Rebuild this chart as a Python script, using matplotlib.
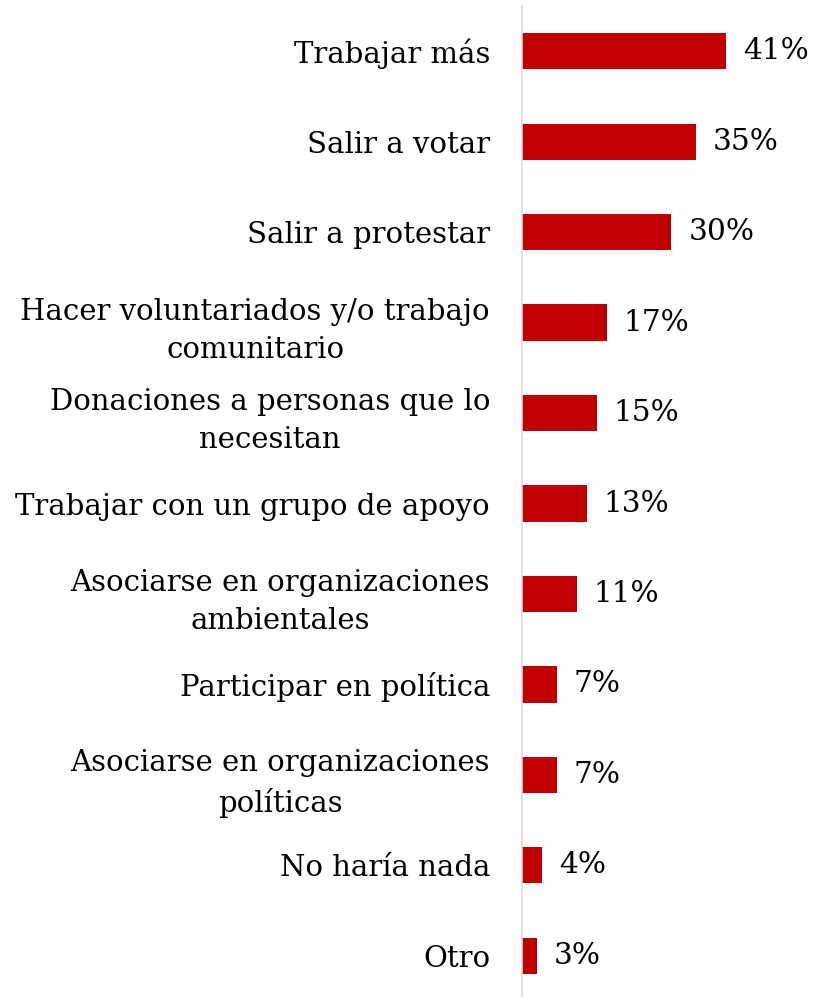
import matplotlib
matplotlib.use('Agg')
import matplotlib.pyplot as plt

# categories and percentages, top to bottom
categories = [
    'Trabajar más',
    'Salir a votar',
    'Salir a protestar',
    'Hacer voluntariados y/o trabajo\ncomunitario',
    'Donaciones a personas que lo\nnecesitan',
    'Trabajar con un grupo de apoyo',
    'Asociarse en organizaciones\nambientales',
    'Participar en política',
    'Asociarse en organizaciones\npolíticas',
    'No haría nada',
    'Otro',
]
values = [41, 35, 30, 17, 15, 13, 11, 7, 7, 4, 3]

plt.rcParams['font.family'] = ['DejaVu Serif']

fig = plt.figure(figsize=(8.15, 9.97), dpi=100)
ax = fig.add_axes([522/815, -4/997, 249/815, 995/997])

pos = list(range(len(values)))
ax.barh(pos, values, height=0.4, color='#C00000')
ax.set_ylim(len(values) - 0.5, -0.5)
ax.set_xlim(0, 50)

for p, v in zip(pos, values):
    ax.text(v + 3.4, p, f'{v}%', va='center', ha='left', fontsize=21.3)

ax.set_yticks(pos)
ax.set_yticklabels(categories, fontsize=21, multialignment='center', linespacing=1.47)
ax.tick_params(axis='y', length=0, pad=23)
ax.set_xticks([])
for s in ['top', 'right', 'bottom']:
    ax.spines[s].set_visible(False)
ax.spines['left'].set_color('#D9D9D9')
ax.spines['left'].set_linewidth(1.2)

fig.savefig('out.png', dpi=100)
